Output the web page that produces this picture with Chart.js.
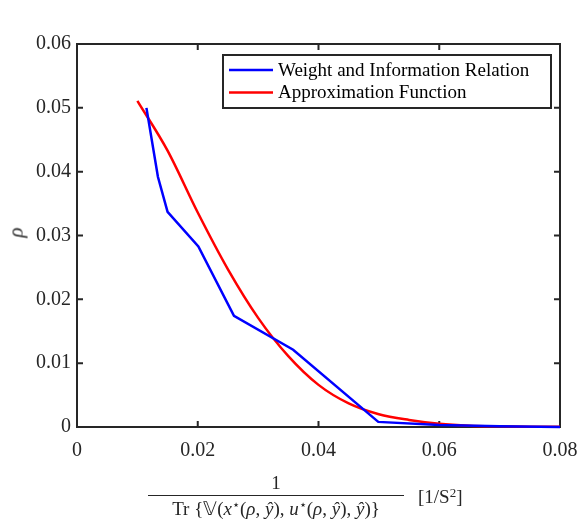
<!DOCTYPE html>
<html>
<head>
<title>rho vs 1/Tr</title>
<script src="https://cdn.jsdelivr.net/npm/chart.js"></script>
<style>
    body { margin: 0; background: #fff; }
    #wrap { position: relative; width: 581px; height: 527px; }
    .lbl { position: absolute; font-family: "Liberation Serif", serif; color: #262626; white-space: nowrap; line-height: 1; }
    #frac { left: 148px; top: 473px; width: 256px; text-align: center; font-size: 19px; }
    #frac .num { padding-bottom: 3px; }
    #frac .den { border-top: 1.3px solid #262626; padding-top: 3px; }
    sup { font-size: 13px; vertical-align: 6px; line-height: 0; }
</style>
</head>
<body>
<div id="wrap">
    <canvas id="chart" width="581" height="527"></canvas>
    <div class="lbl" style="left:11px;top:222px;font-size:21px;font-style:italic;transform:rotate(-90deg)">ρ</div>
    <div class="lbl" id="frac">
        <div class="num">1</div>
        <div class="den">Tr {𝕍(<i>x</i><sup>⋆</sup>(<i>ρ</i>, <i>ŷ</i>), <i>u</i><sup>⋆</sup>(<i>ρ</i>, <i>ŷ</i>), <i>ŷ</i>)}</div>
    </div>
    <div class="lbl" style="left:418px;top:487px;font-size:19px">[1/S<sup>2</sup>]</div>
</div>

<script>
// data
const blueX = [0.0115, 0.0134, 0.0150, 0.0201, 0.0260, 0.0358, 0.0499, 0.0600, 0.0700, 0.0800];
const blueY = [0.0500, 0.0392, 0.0337, 0.0283, 0.0174, 0.0121, 0.0008, 0.0003, 0.0001, 0.0000];

const redX = [0.010, 0.015, 0.020, 0.025, 0.030, 0.035, 0.040, 0.045, 0.050, 0.055, 0.060, 0.065, 0.070, 0.075, 0.080];
const redY = [0.0511, 0.0433, 0.0336, 0.0247, 0.0171, 0.0111, 0.0066, 0.0037, 0.0020, 0.0011, 0.0005, 0.0002, 0.0001, 0.00004, 0.00002];

const seriesNames = ['Weight and Information Relation', 'Approximation Function'];
const xTicks = [0, 0.02, 0.04, 0.06, 0.08];
const yTicks = [0, 0.01, 0.02, 0.03, 0.04, 0.05, 0.06];

const axisColor = '#262626';
const fontFam = '"Liberation Serif", serif';

function toPoints(xs, ys) {
    return xs.map((x, i) => ({ x: x, y: ys[i] }));
}

// box + inward ticks like matlab
const framePlugin = {
    id: 'frame',
    beforeDatasetsDraw(chart) {
        const ctx = chart.ctx;
        const a = chart.chartArea;
        const xs = chart.scales.x, ys = chart.scales.y;
        ctx.save();
        ctx.strokeStyle = axisColor;
        ctx.lineWidth = 2;
        ctx.strokeRect(a.left, a.top, a.right - a.left, a.bottom - a.top);
        ctx.beginPath();
        xTicks.forEach(v => {
            const p = xs.getPixelForValue(v);
            ctx.moveTo(p, a.bottom); ctx.lineTo(p, a.bottom - 6);
            ctx.moveTo(p, a.top); ctx.lineTo(p, a.top + 6);
        });
        yTicks.forEach(v => {
            const p = ys.getPixelForValue(v);
            ctx.moveTo(a.left, p); ctx.lineTo(a.left + 6, p);
            ctx.moveTo(a.right, p); ctx.lineTo(a.right - 6, p);
        });
        ctx.stroke();
        ctx.restore();
    },
    afterDatasetsDraw(chart) {
        // legend box in the top right corner
        const ctx = chart.ctx;
        const a = chart.chartArea;
        const bx = a.right - 337, by = a.top + 11, bw = 328, bh = 53;
        ctx.save();
        ctx.fillStyle = '#fff';
        ctx.fillRect(bx, by, bw, bh);
        ctx.strokeStyle = axisColor;
        ctx.lineWidth = 2;
        ctx.strokeRect(bx, by, bw, bh);
        ctx.font = '19px ' + fontFam;
        ctx.textBaseline = 'middle';
        chart.data.datasets.forEach((ds, i) => {
            const ly = by + 15 + i * 22.5;
            ctx.strokeStyle = ds.borderColor;
            ctx.lineWidth = 2.5;
            ctx.beginPath();
            ctx.moveTo(bx + 6, ly);
            ctx.lineTo(bx + 50, ly);
            ctx.stroke();
            ctx.fillStyle = '#000';
            ctx.fillText(ds.label, bx + 55, ly + 1);
        });
        ctx.restore();
    }
};

const ctx = document.getElementById('chart').getContext('2d');
new Chart(ctx, {
    type: 'line',
    data: {
        datasets: [{
            label: seriesNames[0],
            data: toPoints(blueX, blueY),
            borderColor: '#0000ff',
            borderWidth: 2.5,
            pointRadius: 0,
            tension: 0,
            clip: false
        }, {
            label: seriesNames[1],
            data: toPoints(redX, redY),
            borderColor: '#ff0000',
            borderWidth: 2.5,
            pointRadius: 0,
            cubicInterpolationMode: 'monotone',
            clip: false
        }]
    },
    options: {
        responsive: false,
        animation: false,
        layout: { padding: { left: 0, top: 44, right: 21, bottom: 0 } },
        plugins: {
            legend: { display: false },
            tooltip: { enabled: false }
        },
        scales: {
            x: {
                type: 'linear',
                min: 0, max: 0.08,
                afterFit: s => { s.height = 100; s.paddingLeft = 0; s.paddingRight = 0; },
                afterBuildTicks: s => { s.ticks = xTicks.map(v => ({ value: v })); },
                grid: { display: false, drawTicks: false },
                border: { display: false },
                ticks: {
                    padding: 12,
                    color: axisColor,
                    font: { family: fontFam, size: 20 },
                    maxRotation: 0,
                    callback: v => String(v)
                }
            },
            y: {
                min: 0, max: 0.06,
                afterFit: s => { s.width = 77; s.paddingTop = 0; s.paddingBottom = 0; },
                afterBuildTicks: s => { s.ticks = yTicks.map(v => ({ value: v })); },
                grid: { display: false, drawTicks: false },
                border: { display: false },
                ticks: {
                    padding: 6,
                    color: axisColor,
                    font: { family: fontFam, size: 20 },
                    callback: v => String(v)
                }
            }
        }
    },
    plugins: [framePlugin]
});
</script>
</body>
</html>
